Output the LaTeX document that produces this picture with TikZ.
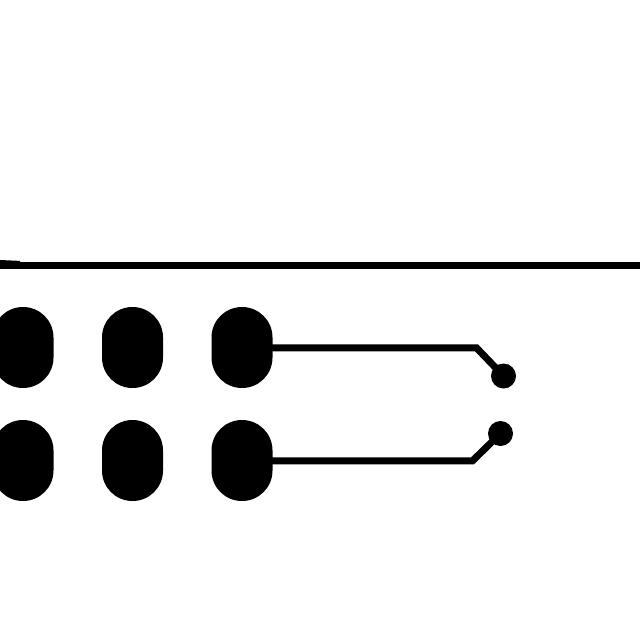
\documentclass[tikz,border=0pt]{standalone}
\begin{document}
\begin{tikzpicture}[x=1pt,y=-1pt,
  pill/.style={draw=none,fill=black,rectangle,rounded corners=30.4pt,minimum width=61pt,minimum height=81pt,inner sep=0pt,outer sep=0pt},
  pad/.style={draw=none,fill=black,circle,minimum size=25pt,inner sep=0pt,outer sep=0pt},
  trace/.style={draw=black,line width=7pt,line join=miter},
  rail/.style={draw=black,line width=7pt}]
\useasboundingbox (0,0) rectangle (640,640);
\clip (0,0) rectangle (640,640);
\fill[white] (0,0) rectangle (640,640);
\coordinate (railL) at (0,265.5);
\coordinate (railR) at (640,265.5);
\coordinate (railS) at (20,264.4);
\draw[rail] (railL) -- (railR);
\draw[rail] (0,263.5) -- (railS);
\node[pill] (a1) at (23,347.5) {};
\node[pill] (a2) at (132.5,347.5) {};
\node[pill] (a3) at (242,347.5) {};
\node[pill] (b1) at (23,460.5) {};
\node[pill] (b2) at (132.5,460.5) {};
\node[pill] (b3) at (242,460.5) {};
\node[pad] (p1) at (503.5,376) {};
\node[pad] (p2) at (500.5,433.5) {};
\coordinate (k1) at (476.5,347.8);
\coordinate (k2) at (472.5,460.8);
\draw[trace] (a3.center) -- (k1 -| a3.center) -- (k1) -- (p1.center);
\draw[trace] (b3.center) -- (k2 -| b3.center) -- (k2) -- (p2.center);
\end{tikzpicture}
\end{document}
